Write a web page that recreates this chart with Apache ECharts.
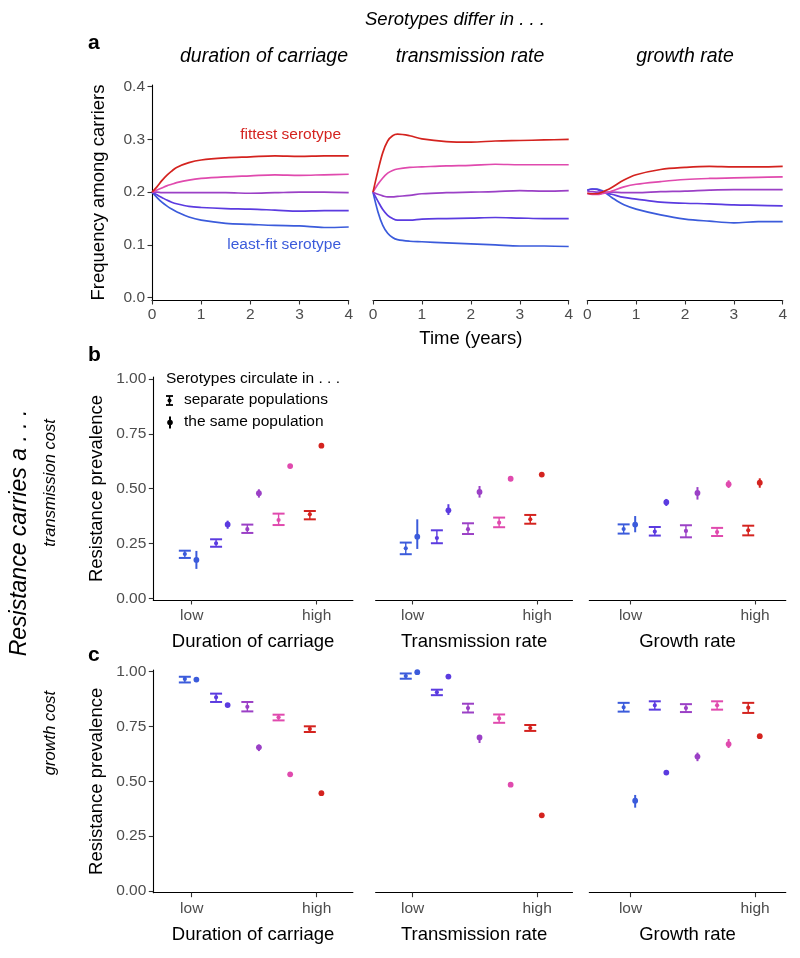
<!DOCTYPE html>
<html>
<head>
<meta charset="utf-8">
<script src="https://cdn.jsdelivr.net/npm/echarts@6/dist/echarts.min.js"></script>
<style>
html, body { margin: 0; padding: 0; background: #fff; }
#chart { width: 800px; height: 958px; }
</style>
</head>
<body>
<div id="chart"></div>
<script>
// serotypes, least fit -> fittest
const serotypeColors = ['#3b5bdb', '#5b3be0', '#9b40c6', '#e04aae', '#d4231f'];

// panel a: frequency among carriers over time
const years = [0, 0.1, 0.2, 0.3, 0.4, 0.5, 0.75, 1, 1.5, 2, 2.5, 3, 3.5, 4];
const yearTicks = [0, 1, 2, 3, 4];
const freqTicks = [0, 0.1, 0.2, 0.3, 0.4];

const freqDuration = [
    [0.200, 0.190, 0.181, 0.174, 0.168, 0.163, 0.153, 0.147, 0.141, 0.139, 0.137, 0.136, 0.133, 0.134],
    [0.200, 0.195, 0.190, 0.185, 0.181, 0.178, 0.173, 0.171, 0.169, 0.168, 0.166, 0.164, 0.165, 0.165],
    [0.200, 0.200, 0.199, 0.199, 0.199, 0.199, 0.199, 0.199, 0.199, 0.198, 0.199, 0.200, 0.200, 0.199],
    [0.200, 0.204, 0.208, 0.212, 0.215, 0.218, 0.223, 0.226, 0.229, 0.231, 0.233, 0.232, 0.233, 0.234],
    [0.200, 0.210, 0.222, 0.232, 0.240, 0.247, 0.256, 0.261, 0.265, 0.267, 0.269, 0.268, 0.269, 0.269]
];
const freqTransmission = [
    [0.200, 0.163, 0.137, 0.122, 0.114, 0.110, 0.107, 0.106, 0.104, 0.102, 0.100, 0.098, 0.098, 0.097],
    [0.200, 0.183, 0.167, 0.156, 0.150, 0.147, 0.147, 0.149, 0.150, 0.151, 0.152, 0.151, 0.150, 0.150],
    [0.200, 0.196, 0.193, 0.191, 0.191, 0.192, 0.194, 0.197, 0.199, 0.200, 0.201, 0.203, 0.202, 0.203],
    [0.200, 0.215, 0.227, 0.236, 0.241, 0.244, 0.247, 0.248, 0.250, 0.251, 0.253, 0.252, 0.252, 0.252],
    [0.200, 0.240, 0.275, 0.297, 0.307, 0.310, 0.307, 0.301, 0.296, 0.295, 0.297, 0.298, 0.299, 0.300]
];
const freqGrowth = [
    [0.204, 0.206, 0.206, 0.203, 0.197, 0.190, 0.176, 0.168, 0.157, 0.149, 0.145, 0.142, 0.144, 0.144],
    [0.203, 0.206, 0.205, 0.201, 0.198, 0.196, 0.190, 0.187, 0.181, 0.179, 0.178, 0.176, 0.175, 0.174],
    [0.201, 0.201, 0.200, 0.200, 0.200, 0.200, 0.199, 0.199, 0.201, 0.202, 0.204, 0.205, 0.205, 0.205],
    [0.197, 0.196, 0.196, 0.197, 0.199, 0.202, 0.210, 0.215, 0.220, 0.224, 0.226, 0.227, 0.228, 0.229],
    [0.198, 0.197, 0.197, 0.200, 0.204, 0.209, 0.223, 0.233, 0.243, 0.247, 0.249, 0.248, 0.248, 0.249]
];

// panels b, c: resistance prevalence [mean, low, high] per serotype
const prevTicks = [0, 0.25, 0.5, 0.75, 1];
const levelTicks = [1, 5];
const levelLabels = ['low', 'high'];

const tcDurationSep = [[0.202, 0.184, 0.217], [0.251, 0.235, 0.269], [0.315, 0.298, 0.336], [0.357, 0.334, 0.386], [0.383, 0.360, 0.398]];
const tcDurationSame = [[0.175, 0.134, 0.216], [0.337, 0.317, 0.354], [0.479, 0.459, 0.497], [0.603, 0.597, 0.609], [0.696, 0.685, 0.707]];
const tcTransSep = [[0.228, 0.201, 0.254], [0.275, 0.251, 0.310], [0.315, 0.293, 0.342], [0.345, 0.324, 0.368], [0.360, 0.340, 0.380]];
const tcTransSame = [[0.281, 0.225, 0.360], [0.401, 0.380, 0.429], [0.485, 0.459, 0.512], [0.545, 0.539, 0.551], [0.564, 0.558, 0.570]];
const tcGrowthSep = [[0.316, 0.295, 0.337], [0.304, 0.286, 0.325], [0.307, 0.278, 0.333], [0.302, 0.284, 0.321], [0.310, 0.287, 0.331]];
const tcGrowthSame = [[0.336, 0.301, 0.375], [0.438, 0.421, 0.453], [0.480, 0.450, 0.507], [0.520, 0.503, 0.538], [0.527, 0.504, 0.547]];

const gcDurationSep = [[0.967, 0.951, 0.977], [0.883, 0.862, 0.900], [0.840, 0.819, 0.862], [0.792, 0.778, 0.804], [0.739, 0.725, 0.751]];
const gcDurationSame = [[0.964, 0.957, 0.971], [0.848, 0.842, 0.854], [0.655, 0.638, 0.668], [0.532, 0.526, 0.538], [0.446, 0.437, 0.454]];
const gcTransSep = [[0.980, 0.968, 0.992], [0.906, 0.893, 0.918], [0.834, 0.814, 0.854], [0.787, 0.767, 0.805], [0.743, 0.730, 0.757]];
const gcTransSame = [[0.998, 0.994, 1.002], [0.978, 0.973, 0.983], [0.700, 0.675, 0.711], [0.485, 0.480, 0.490], [0.345, 0.340, 0.350]];
const gcGrowthSep = [[0.838, 0.818, 0.858], [0.847, 0.827, 0.865], [0.834, 0.816, 0.852], [0.847, 0.827, 0.865], [0.836, 0.812, 0.858]];
const gcGrowthSame = [[0.412, 0.380, 0.438], [0.540, 0.535, 0.545], [0.613, 0.592, 0.631], [0.670, 0.652, 0.693], [0.706, 0.700, 0.712]];

const FONT = '"Liberation Sans", Arial, Helvetica, sans-serif';
const sepOffset = -0.22;
const sameOffset = 0.15;

const topCols = [
    {left: 152, width: 196.7, lines: freqDuration},
    {left: 373, width: 195.7, lines: freqTransmission},
    {left: 587.3, width: 195.4, lines: freqGrowth}
];
const lowCols = [
    {left: 153.3, width: 199.6, min: -0.229, max: 6.158, name: 'Duration of carriage'},
    {left: 375.6, width: 196.9, min: -0.189, max: 6.137, name: 'Transmission rate'},
    {left: 589.3, width: 196.5, min: -0.323, max: 5.986, name: 'Growth rate'}
];
const lowRows = [
    {top: 377, height: 223, min: -0.0078, max: 1.009, nameGap: 32,
        sets: [[tcDurationSep, tcDurationSame], [tcTransSep, tcTransSame], [tcGrowthSep, tcGrowthSame]]},
    {top: 670, height: 222.7, min: -0.0078, max: 1.0078, nameGap: 33,
        sets: [[gcDurationSep, gcDurationSame], [gcTransSep, gcTransSame], [gcGrowthSep, gcGrowthSame]]}
];

function baseAxis(extra) {
    const ax = {
        type: 'value',
        axisLine: {show: true, onZero: false, lineStyle: {color: '#000', width: 1.1}},
        axisTick: {show: true, length: 4.5, lineStyle: {color: '#333', width: 1.1}},
        axisLabel: {color: '#4d4d4d', fontSize: 15.5, fontFamily: FONT, margin: 7},
        splitLine: {show: false},
        nameTextStyle: {color: '#000', fontSize: 18.5, fontFamily: FONT},
        nameLocation: 'middle'
    };
    return Object.assign(ax, extra);
}

function errorBarRenderer(kind) {
    return function (params, api) {
        const color = serotypeColors[api.value(4)];
        const m = api.coord([api.value(0), api.value(1)]);
        const lo = api.coord([api.value(0), api.value(2)]);
        const hi = api.coord([api.value(0), api.value(3)]);
        const kids = [{
            type: 'line',
            shape: {x1: lo[0], y1: lo[1], x2: hi[0], y2: hi[1]},
            style: {stroke: color, lineWidth: kind === 'sep' ? 1.4 : 2}
        }];
        if (kind === 'sep') {
            kids.push({type: 'line', shape: {x1: lo[0] - 6, y1: lo[1], x2: lo[0] + 6, y2: lo[1]}, style: {stroke: color, lineWidth: 2}});
            kids.push({type: 'line', shape: {x1: hi[0] - 6, y1: hi[1], x2: hi[0] + 6, y2: hi[1]}, style: {stroke: color, lineWidth: 2}});
            kids.push({type: 'circle', shape: {cx: m[0], cy: m[1], r: 2.1}, style: {fill: color}});
        } else {
            kids.push({type: 'circle', shape: {cx: m[0], cy: m[1], r: 2.9}, style: {fill: color}});
        }
        return {type: 'group', children: kids};
    };
}

const grids = [], xAxes = [], yAxes = [], series = [];

topCols.forEach((col, i) => {
    const idx = grids.length;
    grids.push({left: col.left, top: 85, width: col.width, height: 215, containLabel: false});
    xAxes.push(baseAxis({
        gridIndex: idx, min: 0, max: 4,
        axisTick: {show: true, length: 4.5, customValues: yearTicks, lineStyle: {color: '#333', width: 1.1}},
        axisLabel: {color: '#4d4d4d', fontSize: 15.5, fontFamily: FONT, margin: 7, customValues: yearTicks},
        name: i === 1 ? 'Time (years)' : '', nameGap: 29
    }));
    yAxes.push(baseAxis({
        gridIndex: idx, min: -0.0044, max: 0.4032,
        axisLine: {show: i === 0, onZero: false, lineStyle: {color: '#000', width: 1.1}},
        axisTick: {show: i === 0, length: 4.5, customValues: freqTicks, lineStyle: {color: '#333', width: 1.1}},
        axisLabel: {show: i === 0, color: '#4d4d4d', fontSize: 15.5, fontFamily: FONT, margin: 7,
            customValues: freqTicks, formatter: v => v.toFixed(1)},
        name: i === 0 ? 'Frequency among carriers' : '', nameGap: 44
    }));
    col.lines.forEach((vals, s) => {
        series.push({
            type: 'line', xAxisIndex: idx, yAxisIndex: idx,
            data: years.map((t, k) => [t, vals[k]]),
            smooth: 0.35, showSymbol: false, silent: true,
            lineStyle: {color: serotypeColors[s], width: 1.7}
        });
    });
});

lowRows.forEach((row, r) => {
    lowCols.forEach((col, c) => {
        const idx = grids.length;
        grids.push({left: col.left, top: row.top, width: col.width, height: row.height});
        xAxes.push(baseAxis({
            gridIndex: idx, min: col.min, max: col.max,
            axisTick: {show: true, length: 4.5, customValues: levelTicks, lineStyle: {color: '#333', width: 1.1}},
            axisLabel: {color: '#4d4d4d', fontSize: 15.5, fontFamily: FONT, margin: 8,
                customValues: levelTicks, formatter: v => (v === 1 ? levelLabels[0] : levelLabels[1])},
            name: col.name, nameGap: row.nameGap
        }));
        yAxes.push(baseAxis({
            gridIndex: idx, min: row.min, max: row.max,
            axisLine: {show: c === 0, onZero: false, lineStyle: {color: '#000', width: 1.1}},
            axisTick: {show: c === 0, length: 4.5, customValues: prevTicks, lineStyle: {color: '#333', width: 1.1}},
            axisLabel: {show: c === 0, color: '#4d4d4d', fontSize: 15.5, fontFamily: FONT, margin: 7,
                customValues: prevTicks, formatter: v => v.toFixed(2)},
            name: c === 0 ? 'Resistance prevalence' : '', nameGap: 47
        }));
        const [sep, same] = row.sets[c];
        series.push({
            type: 'custom', xAxisIndex: idx, yAxisIndex: idx, silent: true,
            renderItem: errorBarRenderer('sep'),
            data: sep.map((d, s) => [s + 1 + sepOffset, d[0], d[1], d[2], s]),
            encode: {x: 0, y: [1, 2, 3]}
        });
        series.push({
            type: 'custom', xAxisIndex: idx, yAxisIndex: idx, silent: true,
            renderItem: errorBarRenderer('same'),
            data: same.map((d, s) => [s + 1 + sameOffset, d[0], d[1], d[2], s]),
            encode: {x: 0, y: [1, 2, 3]}
        });
    });
});

function txt(text, x, y, opts) {
    return {
        type: 'text', x: x, y: y, rotation: (opts && opts.rotation) || 0,
        style: Object.assign({
            text: text, fill: '#000', fontSize: 18.5, fontFamily: FONT,
            textAlign: 'center', textVerticalAlign: 'middle'
        }, (opts && opts.style) || {})
    };
}
const italic = {fontStyle: 'italic'};
const stripStyle = {fontStyle: 'italic', fontSize: 19.5};
const rowStyle = {fontStyle: 'italic', fontSize: 16.5};
const bold = {fontWeight: 'bold', fontSize: 21, textAlign: 'left'};

const graphic = [
    txt('Serotypes differ in . . .', 455, 20, {style: italic}),
    txt('a', 88, 43, {style: bold}),
    txt('b', 88, 355, {style: bold}),
    txt('c', 88, 655, {style: bold}),
    txt('duration of carriage', 264, 57, {style: stripStyle}),
    txt('transmission rate', 470, 57, {style: stripStyle}),
    txt('growth rate', 685, 57, {style: stripStyle}),
    txt('fittest serotype', 341, 135, {style: {fill: serotypeColors[4], fontSize: 15.5, textAlign: 'right'}}),
    txt('least-fit serotype', 341, 245, {style: {fill: serotypeColors[0], fontSize: 15.5, textAlign: 'right'}}),
    txt('Resistance carries a . . .', 20, 533, {rotation: Math.PI / 2, style: {fontStyle: 'italic', fontSize: 23}}),
    txt('transmission cost', 50, 483, {rotation: Math.PI / 2, style: rowStyle}),
    txt('growth cost', 50, 733, {rotation: Math.PI / 2, style: rowStyle}),
    // legend
    txt('Serotypes circulate in . . .', 166, 379, {style: {fontSize: 15.5, textAlign: 'left'}}),
    txt('separate populations', 184, 400, {style: {fontSize: 15.5, textAlign: 'left'}}),
    txt('the same population', 184, 422, {style: {fontSize: 15.5, textAlign: 'left'}}),
    {type: 'line', shape: {x1: 169.5, y1: 396, x2: 169.5, y2: 405}, style: {stroke: '#000', lineWidth: 1.4}},
    {type: 'line', shape: {x1: 166, y1: 396, x2: 173, y2: 396}, style: {stroke: '#000', lineWidth: 1.8}},
    {type: 'line', shape: {x1: 166, y1: 405, x2: 173, y2: 405}, style: {stroke: '#000', lineWidth: 1.8}},
    {type: 'circle', shape: {cx: 169.5, cy: 400.5, r: 2}, style: {fill: '#000'}},
    {type: 'line', shape: {x1: 170, y1: 416.5, x2: 170, y2: 428.5}, style: {stroke: '#000', lineWidth: 2}},
    {type: 'circle', shape: {cx: 170, cy: 422.5, r: 2.8}, style: {fill: '#000'}}
];

const chart = echarts.init(document.getElementById('chart'), null, {renderer: 'canvas'});
chart.setOption({
    animation: false,
    backgroundColor: '#fff',
    grid: grids,
    xAxis: xAxes,
    yAxis: yAxes,
    series: series,
    graphic: graphic
});
</script>
</body>
</html>
